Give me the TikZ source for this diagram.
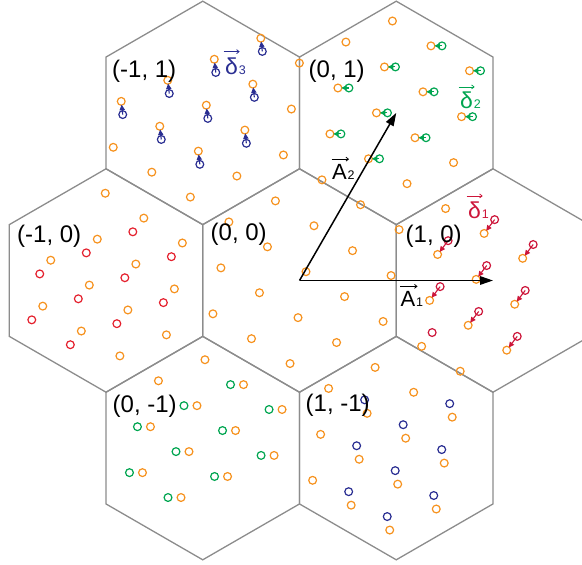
\documentclass[tikz,border=0pt]{standalone}
\usepackage{fontspec}
\setmainfont{Liberation Sans}
\usetikzlibrary{calc,arrows.meta}
\definecolor{hexgray}{RGB}{140,140,140}
\definecolor{orng}{RGB}{246,146,30}
\definecolor{redA}{RGB}{228,32,45}
\definecolor{redB}{RGB}{205,22,58}
\definecolor{grn}{RGB}{0,165,80}
\definecolor{blu}{RGB}{42,46,146}
\begin{document}
\begin{tikzpicture}[x=1pt,y=-1pt,
  hexl/.style={draw=hexgray,line width=1.3pt},
  pt/.style={circle,draw,line width=1.2pt,minimum size=7.8pt,inner sep=0pt,outer sep=0pt},
  opt/.style={pt,draw=orng},
  rapt/.style={pt,draw=redA},
  rbpt/.style={pt,draw=redB},
  gpt/.style={pt,draw=grn},
  bpt/.style={pt,draw=blu},
  sarr/.style={line width=1.1pt,-{Triangle[length=5.5pt,width=5.2pt]},shorten >=-0.6pt},
  bigarr/.style={line width=1.5pt,-{Triangle[length=13pt,width=8.5pt]}},
  cl/.style={font=\fontsize{24}{28}\selectfont,inner sep=0pt,anchor=base west},
  vl/.style={font=\fontsize{22}{26}\selectfont,inner sep=0pt,anchor=base west},
  dl/.style={font=\fontsize{23}{26}\selectfont,inner sep=0pt,anchor=base west},
  sub/.style={font=\fontsize{12.5}{14}\selectfont,inner sep=0pt,anchor=base west},
  ovarr/.style={line width=0.8pt,-{Straight Barb[length=2.5pt,width=4pt]}}
]
\useasboundingbox (0,0) rectangle (582,565);
\clip (0,0) rectangle (582,565);
% cell centres
\coordinate (c00) at (299.5,280.5);
\coordinate (c10) at (493,280.5);
\coordinate (cm10) at (106,280.5);
\coordinate (c01) at (396.25,112.9);
\coordinate (cm11) at (202.75,112.9);
\coordinate (c0m1) at (202.75,448.1);
\coordinate (c1m1) at (396.25,448.1);
\foreach \c in {c00,c10,cm10,c01,cm11,c0m1,c1m1}{
  \draw[hexl] (\c) +(30:111.7) -- +(90:111.7) -- +(150:111.7) -- +(210:111.7) -- +(270:111.7) -- +(330:111.7) -- cycle;
}
% orange lattice points
\foreach \a/\b in {-3/0,-2/0,-2/-1,-1/-1,-1/-2,0/-3,-1/-3,0/-4,-3/1,-2/1,-4/2,-3/2,-4/3,-3/3,-4/4,
  4/-10,3/-9,2/-8,3/-8,1/-7,2/-7,1/-6,2/-6,1/-5,0/-5,1/-4,2/-5,3/-7,4/-9,
  6/-11,5/-10,6/-10,5/-9,6/-9,4/-8,5/-8,4/-7,5/-7,3/-6,4/-6,3/-5,4/-5,2/-4,3/-4,
  1/-3,2/-3,0/-2,1/-2,2/-2,0/-1,1/-1,-1/0,0/0,1/0,-1/1,0/1,-2/2,-1/2,0/2,-2/3,-1/3,-2/4,
  3/-3,3/-2,2/-1,3/-1,2/0,1/1,2/1,1/2,1/3,0/3,0/4,
  -3/4,-4/5,-3/5,-4/6,-3/6,-5/7,-4/7,-5/8,-4/8,-6/9,-5/9,-6/10,
  -1/4,-2/5,-1/5,-2/6,-1/6,-3/7,-2/7,-3/8,-2/8,-4/9,-3/9,-4/10,-3/10,-4/11}{
  \node[opt] (o\a y\b) at ({306+85.08*\a+38.55*\b},{271.7+3.83*\a+24.88*\b}) {};
}
% (1,0): red, with delta_1 arrows
\foreach \a/\b in {3/-2,2/-1,3/-1,2/0,1/1,2/1,1/2,1/3}{
  \node[rbpt] (r\a y\b) at ($(o\a y\b)+(10.5,-13.8)$) {};
  \draw[sarr,redB] (r\a y\b.center) -- (o\a y\b);
}
\node[rbpt] (r0y3) at ($(o0y3)+(10.5,-13.8)$) {};
% (-1,0): red
\foreach \a/\b in {-1/-2,-2/-1,-1/-1,-3/0,-2/0,-3/1,-2/1,-4/2,-3/2,-4/3}{
  \node[rapt] (s\a y\b) at ($(o\a y\b)+(-11,13.7)$) {};
}
% (0,1): green with delta_2 arrows
\foreach \a/\b in {6/-10,5/-9,4/-8,6/-9,5/-8,4/-7,5/-7,3/-6,4/-6,3/-5}{
  \node[gpt] (g\a y\b) at ($(o\a y\b)+(11,0)$) {};
  \draw[sarr,grn] (g\a y\b.center) -- (o\a y\b);
}
% (0,-1): green
\foreach \a/\b in {-3/5,-4/6,-3/6,-5/7,-4/7,-5/8,-4/8,-6/9,-5/9,-6/10}{
  \node[gpt] (h\a y\b) at ($(o\a y\b)+(-13,0)$) {};
}
% (-1,1): blue with delta_3 arrows
\foreach \a/\b in {4/-10,3/-9,2/-8,3/-8,1/-7,2/-7,1/-6,2/-6,1/-5}{
  \node[bpt] (b\a y\b) at ($(o\a y\b)+(1.5,13.2)$) {};
  \draw[sarr,blu] (b\a y\b.center) -- (o\a y\b);
}
% (1,-1): blue
\foreach \a/\b in {-2/6,-1/6,-2/7,-3/8,-2/8,-3/9,-4/10,-3/10,-4/11}{
  \node[bpt] (e\a y\b) at ($(o\a y\b)+(-2.5,-13.5)$) {};
}
% lattice vectors
\draw[bigarr] (c00) -- (c10);
\draw[bigarr] (c00) -- (c01);
% cell labels
\node[cl] (l00) at (210.5,240.5) {(0, 0)};
\node[cl] (l10) at (405.5,242.5) {(1, 0)};
\node[cl] (lm10) at (17,242.5) {(-1, 0)};
\node[cl] (l01) at (308.5,77.5) {(0, 1)};
\node[cl] (lm11) at (112,77.5) {(-1, 1)};
\node[cl] (l0m1) at (112.5,412.5) {(0, -1)};
\node[cl] (l1m1) at (305.5,411) {(1, -1)};
% vector labels
\node[vl] (A1) at (400.5,306.7) {A};
\node[sub] (A1s) at ([xshift=0.3pt]A1.base east) {1};
\draw[ovarr] ([xshift=-0.5pt,yshift=5pt]A1.north west) -- ([xshift=2pt,yshift=5pt]A1.north east);
\node[vl] (A2) at (332,179.5) {A};
\node[sub] (A2s) at ([xshift=0.3pt]A2.base east) {2};
\draw[ovarr] ([xshift=-0.5pt,yshift=5pt]A2.north west) -- ([xshift=2pt,yshift=5pt]A2.north east);
\node[dl,text=blu] (d3) at (225,74.5) {δ};
\node[sub,text=blu] (d3s) at ([xshift=0.5pt]d3.base east) {3};
\draw[ovarr,blu] ([xshift=-1.5pt,yshift=6pt]d3.north west) -- ([xshift=1.5pt,yshift=6pt]d3.north east);
\node[dl,text=grn] (d2) at (460,108.8) {δ};
\node[sub,text=grn] (d2s) at ([xshift=0.5pt]d2.base east) {2};
\draw[ovarr,grn] ([xshift=-1.5pt,yshift=5pt]d2.north west) -- ([xshift=1.5pt,yshift=5pt]d2.north east);
\node[dl,text=redB] (d1) at (468,218.8) {δ};
\node[sub,text=redB] (d1s) at ([xshift=0.5pt]d1.base east) {1};
\draw[ovarr,redB] ([xshift=-1.5pt,yshift=6pt]d1.north west) -- ([xshift=1.5pt,yshift=6pt]d1.north east);
\end{tikzpicture}
\end{document}
